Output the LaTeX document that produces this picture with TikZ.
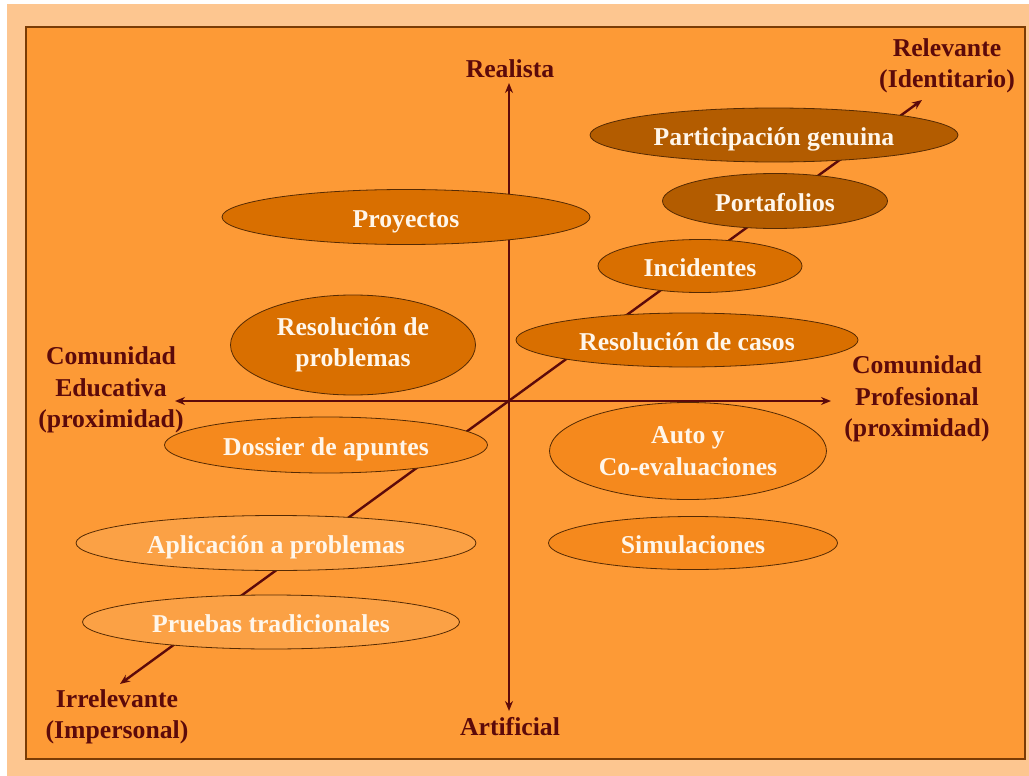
\documentclass[tikz,border=0pt]{standalone}
\usepackage{fontspec}
\setmainfont{Liberation Serif}
\usetikzlibrary{shapes.geometric,arrows.meta}

\definecolor{marco}{HTML}{FDC690}
\definecolor{fondo}{HTML}{FD9A36}
\definecolor{borde}{HTML}{7A3C05}
\definecolor{eje}{HTML}{5C0A0A}
\definecolor{nivelA}{HTML}{B35C00}
\definecolor{nivelB}{HTML}{D96F00}
\definecolor{nivelC}{HTML}{F5891D}
\definecolor{nivelD}{HTML}{FBA145}
\definecolor{letra}{HTML}{FFF6EA}

\begin{document}
\begin{tikzpicture}[x = 1pt, y = -1pt,
	>={Stealth[length = 10pt, width = 8pt]},
	txt/.style = {font = \fontsize{25.7}{31.5}\selectfont\bfseries},
	etiqueta/.style = {txt, text = eje, align = center, inner sep = 0pt},
	burbuja/.style = {ellipse, draw = borde!70!black, line width = 0.8pt, txt, text = letra, align = center, inner sep = 0pt, text height = 21pt, text depth = 1pt},
	doble/.style = {text height = {}, text depth = {}}]
				%	page setup
				
				\useasboundingbox (0, 0) rectangle (1029, 776);
				\fill[marco] (7, 4) rectangle (1029, 776);
				\draw[fill = fondo, draw = borde, line width = 2pt] (26, 27) rectangle (1025, 759);
				
				%	axis ends
				\coordinate (arriba) at (509, 83);
				\coordinate (abajo) at (509, 711);
				\coordinate (izq) at (175, 401);
				\coordinate (der) at (831, 401);
				\coordinate (sube) at (922, 100);
				\coordinate (baja) at (120, 684);
				
				%	axes
				\draw[<->, eje, line width = 2.4pt] (abajo) -- (arriba);
				\draw[<->, eje, line width = 2.4pt] (izq) -- (der);
				\draw[<->, eje, line width = 2.4pt] (baja) -- (sube);
				
				%	axis labels
				\node[etiqueta] (realista) at (510, 69) {Realista};
				\node[etiqueta] (artificial) at (510, 727) {Artificial};
				\node[etiqueta] (relevante) at (947, 66) {Relevante\\(Identitario)};
				\node[etiqueta] (irrelevante) at (117, 717) {Irrelevante\\(Impersonal)};
				\node[etiqueta] (educativa) at (111, 390) {Comunidad\\Educativa\\(proximidad)};
				\node[etiqueta] (profesional) at (917, 399) {Comunidad\\Profesional\\(proximidad)};
				
				%	ellipses
				\node[burbuja, fill = nivelA, minimum width = 368, minimum height = 54] (genuina) at (774, 135) {Participación genuina};
				\node[burbuja, fill = nivelA, minimum width = 225, minimum height = 55] (portafolios) at (775, 201) {Portafolios};
				\node[burbuja, fill = nivelB, minimum width = 368, minimum height = 55] (proyectos) at (406, 217) {Proyectos};
				\node[burbuja, fill = nivelB, minimum width = 204, minimum height = 53] (incidentes) at (700, 266) {Incidentes};
				\node[burbuja, doble, fill = nivelB, minimum width = 245, minimum height = 100] (problemas) at (353, 345) {Resolución de\\problemas};
				\node[burbuja, fill = nivelB, minimum width = 342, minimum height = 54] (casos) at (687, 340) {Resolución de casos};
				\node[burbuja, fill = nivelC, minimum width = 323, minimum height = 56] (dossier) at (326, 445) {Dossier de apuntes};
				\node[burbuja, doble, fill = nivelC, minimum width = 277, minimum height = 97] (auto) at (688, 451) {Auto y\\Co-evaluaciones};
				\node[burbuja, fill = nivelD, minimum width = 400, minimum height = 55] (aplicacion) at (276, 543) {Aplicación a problemas};
				\node[burbuja, fill = nivelC, minimum width = 289, minimum height = 53] (simulaciones) at (693, 543) {Simulaciones};
				\node[burbuja, fill = nivelD, minimum width = 377, minimum height = 54] (pruebas) at (271, 622) {Pruebas tradicionales};
\end{tikzpicture}
\end{document}
